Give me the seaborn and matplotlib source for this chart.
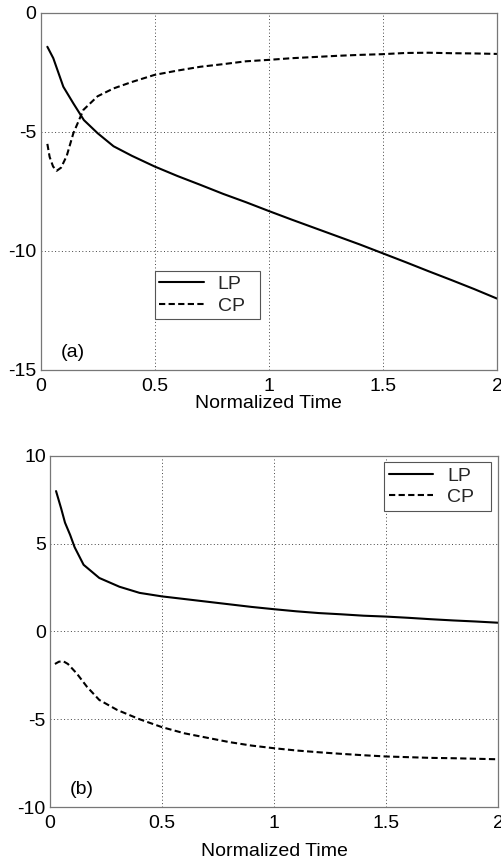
import numpy as np
import pandas as pd
import matplotlib
matplotlib.use("Agg")
import matplotlib.pyplot as plt
import seaborn as sns

# ---- data ----
a_lp_x = [0.03, 0.056, 0.1, 0.144, 0.19, 0.25, 0.32, 0.4, 0.5, 0.6, 0.7, 0.8, 0.9,
          1.0, 1.1, 1.2, 1.3, 1.4, 1.5, 1.6, 1.7, 1.8, 1.9, 2.0]
a_lp_y = [-1.42, -1.9, -3.1, -3.8, -4.5, -5.05, -5.6, -6.0, -6.45, -6.85, -7.22, -7.6, -7.95,
          -8.32, -8.68, -9.03, -9.38, -9.73, -10.1, -10.47, -10.85, -11.22, -11.6, -12.0]
a_cp_x = [0.03, 0.04, 0.055, 0.071, 0.09, 0.115, 0.144, 0.188, 0.25, 0.32, 0.4, 0.5, 0.6,
          0.7, 0.8, 0.9, 1.0, 1.1, 1.2, 1.3, 1.4, 1.5, 1.6, 1.7, 1.8, 1.9, 2.0]
a_cp_y = [-5.5, -6.05, -6.45, -6.63, -6.5, -6.0, -5.05, -4.07, -3.5, -3.17, -2.9, -2.6, -2.42,
          -2.26, -2.15, -2.03, -1.97, -1.9, -1.85, -1.8, -1.76, -1.73, -1.68, -1.67, -1.69, -1.7, -1.72]

b_lp_x = [0.027, 0.05, 0.067, 0.09, 0.11, 0.15, 0.22, 0.31, 0.4, 0.5, 0.6, 0.7, 0.8, 0.9,
          1.0, 1.1, 1.2, 1.3, 1.4, 1.5, 1.6, 1.7, 1.8, 1.9, 2.0]
b_lp_y = [8.0, 7.0, 6.2, 5.5, 4.8, 3.8, 3.05, 2.55, 2.2, 2.0, 1.85, 1.7, 1.55, 1.4,
          1.27, 1.15, 1.05, 0.98, 0.9, 0.85, 0.78, 0.7, 0.63, 0.57, 0.5]
b_cp_x = [0.022, 0.04, 0.06, 0.08, 0.12, 0.165, 0.22, 0.3, 0.4, 0.5, 0.6, 0.7, 0.8, 0.9,
          1.0, 1.1, 1.2, 1.3, 1.4, 1.5, 1.6, 1.7, 1.8, 1.9, 2.0]
b_cp_y = [-1.85, -1.72, -1.7, -1.85, -2.4, -3.15, -3.9, -4.47, -5.0, -5.45, -5.8, -6.05, -6.3, -6.5,
          -6.65, -6.78, -6.88, -6.97, -7.05, -7.12, -7.16, -7.2, -7.22, -7.25, -7.28]

series_names = ["LP", "CP"]
x_ticks = [0, 0.5, 1, 1.5, 2]
x_ticklabels = ["0", "0.5", "1", "1.5", "2"]
a_y_ticks = [-15, -10, -5, 0]
b_y_ticks = [-10, -5, 0, 5, 10]
x_label = "Normalized Time"
panel_labels = ["(a)", "(b)"]

sns.set_theme(style="white")
plt.rcParams["font.family"] = ["Liberation Sans", "DejaVu Sans"]

FS = 14

fig = plt.figure(figsize=(5.02, 8.60), dpi=100)
ax_a = fig.add_axes([0.0807, 0.5698, 0.9093, 0.4151])
ax_b = fig.add_axes([0.0996, 0.0616, 0.8924, 0.4082])

def build(x1, y1, x2, y2):
    return pd.concat([
        pd.DataFrame({"t": x1, "v": y1, "s": series_names[0]}),
        pd.DataFrame({"t": x2, "v": y2, "s": series_names[1]}),
    ], ignore_index=True)

df_a = build(a_lp_x, a_lp_y, a_cp_x, a_cp_y)
df_b = build(b_lp_x, b_lp_y, b_cp_x, b_cp_y)

dash_map = {"LP": "", "CP": (3, 1.6)}

for ax, df, yt, ylim, leg_loc, plabel, lpad in [
    (ax_a, df_a, a_y_ticks, (-15, 0), (0.25, 0.135, 0.23, 0.15), panel_labels[0], 0),
    (ax_b, df_b, b_y_ticks, (-10, 10), (0.745, 0.84, 0.24, 0.145), panel_labels[1], 8),
]:
    sns.lineplot(data=df, x="t", y="v", hue="s", style="s",
                 palette={"LP": "black", "CP": "black"}, dashes=dash_map,
                 linewidth=1.5, sort=False, estimator=None, ax=ax, legend=True)
    ax.set_xlim(0, 2)
    ax.set_ylim(*ylim)
    ax.set_xticks(x_ticks)
    ax.set_xticklabels(x_ticklabels)
    ax.set_yticks(yt)
    ax.set_yticklabels([str(v) for v in yt])
    ax.tick_params(axis="both", length=0, labelsize=FS, colors="black")
    ax.tick_params(axis="x", pad=6)
    ax.tick_params(axis="y", pad=3)
    ax.set_xlabel(x_label, fontsize=FS, color="black", labelpad=lpad)
    ax.set_ylabel("")
    ax.grid(True, linestyle=(0, (1, 2.5)), color="#444444", linewidth=0.7)
    for sp in ax.spines.values():
        sp.set_visible(True)
        sp.set_color("#777777")
        sp.set_linewidth(0.9)
    handles, labels = ax.get_legend_handles_labels()
    leg = ax.legend(handles, labels, loc="center", bbox_to_anchor=leg_loc,
                    mode="expand", fontsize=FS, frameon=True, fancybox=False,
                    edgecolor="#555555", framealpha=1, handlelength=2.3,
                    handletextpad=0.7, borderpad=0.25, labelspacing=0.2,
                    borderaxespad=0)
    leg.get_frame().set_linewidth(0.8)
    ax.text(0.045, 0.05, plabel, transform=ax.transAxes, fontsize=FS,
            ha="left", va="center", color="black")

fig.savefig("out.png", dpi=100)
